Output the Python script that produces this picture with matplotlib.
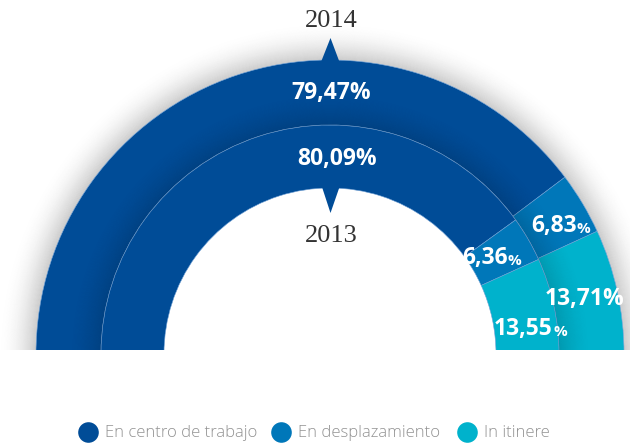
import numpy as np
import matplotlib.pyplot as plt
from matplotlib.patches import Wedge, Rectangle, Polygon

# data
categories = ['En centro de trabajo', 'En desplazamiento', 'In itinere']
vals_2014 = [79.47, 6.83, 13.71]
vals_2013 = [80.09, 6.36, 13.55]
years = ['2014', '2013']
colors = ['#004c97', '#0077b9', '#00b2cc']

# geometry (pixels, y down)
cx, cy = 330, 354
r_out, r_mid, r_hole = 294, 229, 166

fig = plt.figure(figsize=(6.3, 4.47), dpi=100)
ax = fig.add_axes([0, 0, 1, 1])

# soft gray glow around the outer ring
n = 38
for i in range(n):
    a = 0.2 * (1 - i / n) ** 2
    ax.add_patch(Wedge((cx, cy), r_out + (i + 1) * 1.0, 180, 360, width=1.0,
                       color='black', alpha=a, lw=0, zorder=1))

def half_pie(vals, radius, width):
    w, _ = ax.pie(list(vals) + [sum(vals)], radius=radius, center=(cx, cy),
                  startangle=180, counterclock=True,
                  colors=colors + ['none'],
                  wedgeprops=dict(width=width, edgecolor='#6f9fd4',
                                  linewidth=0.4))
    w[-1].set_visible(False)
    for p in w:
        p.set_zorder(2)
    return w

half_pie(vals_2014, r_out, r_out - r_mid)
half_pie(vals_2013, r_mid, r_mid - r_hole)

# inner shade on the outer ring
n = 30
for i in range(n):
    a = 0.13 * (1 - i / n) ** 1.5
    ax.add_patch(Wedge((cx, cy), r_mid + (i + 1) * 1.0, 180, 360, width=1.0,
                       color='black', alpha=a, lw=0, zorder=3))

# pointers
ax.add_patch(Polygon([(321, 62), (339.5, 62), (330.5, 38)], closed=True,
                     color=colors[0], lw=0, zorder=3))
ax.add_patch(Polygon([(322, 187), (339.5, 187), (330.5, 213)], closed=True,
                     color=colors[0], lw=0, zorder=3))

# cut bottom flat
ax.add_patch(Rectangle((0, 350), 630, 100, color='white', lw=0, zorder=5))

ax.set_xlim(0, 630)
ax.set_ylim(447, 0)
ax.set_aspect('auto')
ax.axis('off')

# year labels
ax.text(331, 21, years[0], ha='center', va='center', fontsize=19,
        family='Liberation Serif', color='#333333', zorder=10)
ax.text(331, 236, years[1], ha='center', va='center', fontsize=19,
        family='Liberation Serif', color='#333333', zorder=10)

def fmt(v):
    return ('%.2f' % v).replace('.', ',')

# value labels: (value, x, y, small percent sign)
lab_pos = [
    (vals_2014[0], 291, 93, False),
    (vals_2013[0], 297, 159, False),
    (vals_2014[1], 531, 226, True),
    (vals_2013[1], 462, 258, True),
    (vals_2014[2], 545, 299, False),
    (vals_2013[2], 494, 329, True),
]
for v, x, y, small in lab_pos:
    if small:
        t = ax.text(x, y, fmt(v), ha='left', va='center', fontsize=16.5,
                    family='Open Sans', weight='bold', color='white', zorder=10)
        ax.annotate('%', xy=(1, 0), xycoords=t, xytext=(0.2, 1.5),
                    textcoords='offset points', ha='left', va='bottom',
                    fontsize=11, family='Open Sans', weight='bold',
                    color='white', zorder=10)
    else:
        ax.text(x, y, fmt(v) + '%', ha='left', va='center', fontsize=16.5,
                family='Open Sans', weight='bold', color='white', zorder=10)

# legend
leg_x = [88, 281, 467]
for c, lab, x in zip(colors, categories, leg_x):
    ax.scatter([x], [432], s=220, color=c, lw=0, zorder=10)
    ax.text(x + 17, 433, lab, ha='left', va='center', fontsize=12,
            family='Open Sans', weight='light', color='#929292', zorder=10)

fig.savefig('out.png', dpi=100)
